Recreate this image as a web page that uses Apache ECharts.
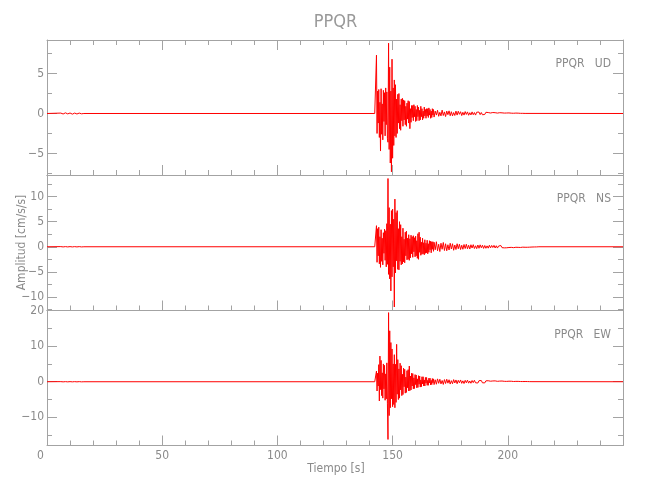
<!DOCTYPE html>
<html>
<head>
<meta charset="utf-8">
<script src="https://cdn.jsdelivr.net/npm/echarts@6/dist/echarts.min.js"></script>
<style>html,body{margin:0;padding:0;background:#fff}#c{width:650px;height:500px}</style>
</head>
<body>
<div id="c"></div>
<script>
// ---------- data ----------
const chartTitle = 'PPQR';
const panelNames = ['PPQR   UD', 'PPQR   NS', 'PPQR   EW'];
const xTitle = 'Tiempo [s]';
const yTitle = 'Amplitud [cm/s/s]';
const xMin = 0, xMax = 250, xStep = 50;

// y ranges of the three panels
const yRanges = [[-7.7, 9.2], [-12.7, 14.3], [-17.9, 20.0]];
const yMajor = [[-5, 0, 5], [-10, -5, 0, 5, 10], [-10, 0, 10, 20]];
const yMinor = [[-7.5, -2.5, 2.5, 7.5], [-12.5, -7.5, -2.5, 2.5, 7.5, 12.5], [-15, -5, 5, 15]];

// sampling of the three traces (s)
const preStart = 6, preStep = 1;
const mainStart = 142.5, mainStep = 0.25;
const tailStart = 168, tailStep = 0.5;

// UD component
const udPre = [0.05, -0.06, 0.08, -0.05, 0.06, -0.08, 0.05, -0.06, 0.05, -0.04];
const udMain = [0.05, -0.05, 7.3, -2.5, 2.8, -1.2, 3.0, -3.0, 1.4, -4.7,
  3.1, -2.6, 1.2, -3.3, 2.9, -1.0, 2.6, -2.8, 3.2, -1.4,
  2.7, -3.1, -3.6, 8.8, -4.5, 5.8, -6.2, 2.8, -7.3, 6.8,
  -5.6, 3.2, -4.0, 4.2, -2.8, 3.6, -3.0, 1.8, -2.5, 2.4,
  -1.2, 2.5, -1.9, 1.1, -2.1, 1.8, -0.9, 1.9, -1.6, 1.7,
  -0.8, 1.6, -1.4, 0.9, -1.6, 1.3, -0.7, 1.6, -1.2, 1.5,
  -1.9, 0.6, -1.1, 1.0, -0.5, 1.0, -0.9, 1.1, -0.4, 0.9,
  -1.0, 0.5, -0.9, 1.0, -0.4, 0.8, -0.9, 0.4, -0.8, 0.9,
  -0.4, 0.6, -0.8, 0.3, -0.6, 0.8, -0.3, 0.5, -0.6, 0.6,
  -0.3, 0.6, -0.5, 0.7, -0.2, 0.5, -0.6, 0.3, -0.5, 0.6,
  -0.2, 0.5];
const udTail = [-0.45, 0.3, -0.2, 0.4, -0.35, 0.15, -0.3, 0.42, -0.25, 0.2,
  -0.38, 0.3, -0.15, 0.33, -0.28, 0.22, -0.3, 0.12, -0.25, 0.3,
  -0.2, 0.28, -0.1, 0.22, -0.26, 0.15, -0.2, 0.24, -0.12, 0.2,
  -0.22, 0.1, -0.18, 0.2, -0.15, 0.12, -0.2, 0.16, -0.08, 0.18,
  -0.14, 0.12, -0.16, 0.08, -0.12, 0.15, -0.1, 0.12, -0.13, 0.06,
  -0.1, 0.12, -0.08, 0.1, -0.11, 0.05, -0.09, 0.1, -0.06, 0.08,
  -0.08, 0.05, -0.07, 0.06, -0.04, 0.07, -0.05, 0.04, -0.06, 0.03,
  -0.04, 0.05, -0.03, 0.04, -0.03, 0.02, -0.03, 0.02, -0.02, 0.01, 0];

// NS component
const nsPre = [0.03, -0.03, 0.03, -0.03, 0.03, -0.03, 0.03, -0.03, 0.03, -0.03];
const nsMain = [0.1, -0.2, 4.2, -3.1, 3.6, -1.8, 3.9, -3.4, 2.0, -4.1,
  3.4, -2.9, 1.7, -3.6, 2.8, -1.3, 3.5, -2.7, 3.2, -4.0,
  4.6, -3.5, 13.6, -5.5, 7.8, -6.4, 4.5, -8.8, 7.2, -6.0,
  7.5, -4.0, 5.5, -12.0, 9.5, -5.2, 6.8, -2.8, 7.2, -4.5,
  3.6, -4.6, 5.0, -2.9, 4.4, -3.6, 2.0, -3.4, 3.7, -3.0,
  1.5, -3.2, 2.9, -1.8, 3.1, -2.6, 1.7, -2.5, 2.4, -2.7,
  1.6, -2.2, 2.3, -1.4, 2.0, -2.1, 2.2, -1.0, 1.8, -2.0,
  2.1, -1.8, 1.2, -2.3, 2.6, -2.5, 2.9, -1.1, 1.9, -1.7,
  0.9, -1.5, 1.7, -1.4, 0.8, -1.6, 1.4, -1.3, 0.7, -1.2,
  1.3, -1.4, 0.6, -1.1, 1.2, -0.6, 1.1, -1.2, 1.0, -0.5,
  1.0, -0.9];
const nsTail = [0.9, -0.6, 1.0, -0.8, 0.5, -0.95, 0.7, -0.5, 0.85, -0.75,
  0.6, -0.8, 0.4, -0.65, 0.7, -0.45, 0.6, -0.7, 0.35, -0.55,
  0.6, -0.4, 0.5, -0.55, 0.3, -0.5, 0.45, -0.35, 0.5, -0.4,
  0.3, -0.45, 0.4, -0.25, 0.42, -0.35, 0.2, -0.38, 0.35, -0.3,
  0.38, -0.2, 0.3, -0.33, 0.25, -0.3, 0.18, -0.28, 0.3, -0.22,
  0.26, -0.15, 0.28, -0.24, 0.2, -0.26, 0.15, -0.22, 0.24, -0.18,
  0.2, -0.22, 0.12, -0.2, 0.18, -0.15, 0.2, -0.12, 0.16, -0.18,
  0.14, -0.1, 0.16, -0.12, 0.1, -0.14, 0.12, -0.08, 0.12, -0.1,
  0.08, -0.1, 0.06, -0.08, 0.07, -0.05, 0.06, -0.04, 0.05, -0.03,
  0.03, 0];

// EW component
const ewPre = [0.03, -0.03, 0.03, -0.03, 0.03, -0.03, 0.03, -0.03, 0.03, -0.03];
const ewMain = [0.1, -0.2, 3.0, -2.6, 2.4, -1.2, 4.8, -5.4, 7.2, -2.2,
  6.0, -3.9, 2.5, -4.6, 5.0, -2.0, 4.6, -5.2, 2.2, -4.8,
  5.3, -6.0, -16.2, 19.4, -9.5, 14.3, -7.3, 11.0, -4.8, 9.2,
  -7.0, 5.0, -6.4, 7.6, -7.3, 4.9, -5.8, 10.5, -3.5, 6.2,
  -5.0, 3.6, -4.6, 5.2, -2.3, 4.5, -3.9, 2.1, -3.6, 3.8,
  -1.4, 3.5, -3.2, 1.3, -3.0, 3.1, -1.7, 3.4, -2.6, 4.4,
  -2.5, 1.6, -2.3, 2.4, -1.2, 2.3, -2.0, 1.1, -1.9, 2.0,
  -0.8, 1.9, -1.7, 0.8, -1.6, 1.7, -0.7, 1.6, -1.5, 0.5,
  -1.4, 1.4, -0.6, 1.4, -1.2, 0.5, -1.2, 1.2, -0.4, 1.2,
  -1.0, 0.4, -1.0, 1.0, -0.3, 1.0, -0.9, 0.4, -0.8, 0.9,
  -0.3, 0.8];
const ewTail = [-0.8, 0.55, -0.7, 0.8, -0.45, 0.7, -0.6, 0.35, -0.75, 0.6,
  -0.5, 0.7, -0.4, 0.55, -0.65, 0.3, -0.55, 0.6, -0.35, 0.5,
  -0.55, 0.4, -0.3, 0.5, -0.45, 0.25, -0.5, 0.4, -0.3, 0.45,
  -0.4, 0.2, -0.42, 0.35, -0.25, 0.4, -0.3, 0.22, -0.36, 0.3,
  -0.2, 0.34, -0.3, 0.15, -0.32, 0.25, -0.2, 0.28, -0.22, 0.15,
  -0.26, 0.22, -0.14, 0.24, -0.2, 0.12, -0.22, 0.18, -0.1, 0.2,
  -0.16, 0.12, -0.18, 0.1, -0.14, 0.15, -0.08, 0.14, -0.12, 0.07,
  -0.12, 0.1, -0.06, 0.1, -0.08, 0.06, -0.09, 0.05, -0.07, 0.06,
  -0.04, 0.05, -0.04, 0.03, -0.03, 0.02, 0];

// ---------- build ----------
function trace(pre, main, tail) {
  const d = [[xMin, 0]];
  pre.forEach((v, i) => d.push([preStart + i * preStep, v]));
  d.push([preStart + pre.length * preStep, 0]);
  d.push([mainStart - mainStep, 0]);
  main.forEach((v, i) => d.push([mainStart + i * mainStep, v]));
  tail.forEach((v, i) => d.push([tailStart + i * tailStep, v]));
  d.push([xMax, 0]);
  return d;
}
const traces = [trace(udPre, udMain, udTail), trace(nsPre, nsMain, nsTail), trace(ewPre, ewMain, ewTail)];

const FONT = "'DejaVu Sans Condensed', 'DejaVu Sans', sans-serif";
const TXT = '#8a8a8a';
const LINE = '#a3a3a3';
const gridTops = [40, 175, 310.5];
const gridH = [135, 135.5, 135];

const grids = [], xAxes = [], yAxes = [], series = [];
const minus = v => String(v).replace('-', '\u2212');

for (let p = 0; p < 3; p++) {
  grids.push({ left: 47, right: 27, top: gridTops[p], height: gridH[p], containLabel: false });
  const isBottom = p === 2;
  xAxes.push({
    type: 'value', gridIndex: p, position: 'bottom', min: xMin, max: xMax, interval: xStep,
    axisLine: { show: true, onZero: false, lineStyle: { color: LINE, width: 1 } },
    axisTick: { show: true, inside: true, length: 10, lineStyle: { color: LINE } },
    minorTick: { show: true, splitNumber: 5, length: 5, lineStyle: { color: LINE } },
    splitLine: { show: false }, minorSplitLine: { show: false },
    axisLabel: {
      show: isBottom, showMaxLabel: false, margin: 4, color: TXT, fontFamily: FONT, fontSize: 12,
      formatter: v => v === 0 ? '{z|0}' : String(v),
      rich: { z: { padding: [0, 13, 0, 0], color: TXT, fontFamily: FONT, fontSize: 12 } }
    }
  });
  xAxes.push({
    type: 'value', gridIndex: p, position: 'top', min: xMin, max: xMax, interval: xStep,
    axisLine: { show: true, onZero: false, lineStyle: { color: LINE, width: 1 } },
    axisTick: { show: p === 0, inside: true, length: 10, lineStyle: { color: LINE } },
    minorTick: { show: p === 0, splitNumber: 5, length: 5, lineStyle: { color: LINE } },
    splitLine: { show: false }, axisLabel: { show: false }
  });
  const [mn, mx] = yRanges[p];
  const base = { type: 'value', gridIndex: p, min: mn, max: mx, splitLine: { show: false } };
  yAxes.push(Object.assign({}, base, {
    position: 'left',
    axisLine: { show: true, onZero: false, lineStyle: { color: LINE, width: 1 } },
    axisTick: { show: true, inside: true, length: 10, customValues: yMajor[p], lineStyle: { color: LINE } },
    axisLabel: { show: true, customValues: yMajor[p], margin: 3, color: TXT, fontFamily: FONT, fontSize: 12, formatter: minus }
  }));
  yAxes.push(Object.assign({}, base, {
    position: 'left',
    axisLine: { show: false, onZero: false },
    axisTick: { show: true, inside: true, length: 5, customValues: yMinor[p], lineStyle: { color: LINE } },
    axisLabel: { show: false }
  }));
  yAxes.push(Object.assign({}, base, {
    position: 'right',
    axisLine: { show: true, onZero: false, lineStyle: { color: LINE, width: 1 } },
    axisTick: { show: true, inside: true, length: 10, customValues: yMajor[p], lineStyle: { color: LINE } },
    axisLabel: { show: false }
  }));
  yAxes.push(Object.assign({}, base, {
    position: 'right',
    axisLine: { show: false, onZero: false },
    axisTick: { show: true, inside: true, length: 5, customValues: yMinor[p], lineStyle: { color: LINE } },
    axisLabel: { show: false }
  }));
  series.push({
    type: 'line', xAxisIndex: p * 2, yAxisIndex: p * 4, data: traces[p],
    showSymbol: false, symbol: 'none', sampling: null, animation: false, silent: true,
    lineStyle: { color: '#ff0000', width: 1 }, z: 1
  });
}

const graphics = [
  { type: 'text', x: 335.5, y: 22, style: { text: chartTitle, fill: '#999', font: "18px " + FONT, align: 'center', verticalAlign: 'middle' } },
  { type: 'text', x: 336, y: 469, style: { text: xTitle, fill: TXT, font: "12px " + FONT, align: 'center', verticalAlign: 'middle' } },
  { type: 'text', x: 22, y: 242.5, rotation: Math.PI / 2, style: { text: yTitle, fill: TXT, font: "12px " + FONT, align: 'center', verticalAlign: 'middle' } }
];
panelNames.forEach((n, p) => graphics.push({
  type: 'text', x: 611, y: gridTops[p] + 24,
  style: { text: n, fill: TXT, font: "12px " + FONT, align: 'right', verticalAlign: 'middle' }
}));

const chart = echarts.init(document.getElementById('c'), null, { renderer: 'canvas' });
chart.setOption({
  backgroundColor: '#fff', animation: false,
  grid: grids, xAxis: xAxes, yAxis: yAxes, series: series, graphic: graphics
});
</script>
</body>
</html>
